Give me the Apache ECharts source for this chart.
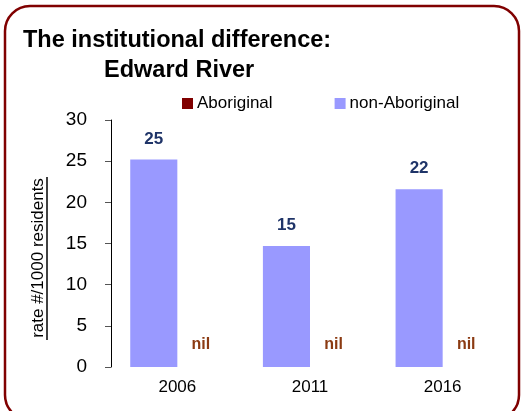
<!DOCTYPE html>
<html>
<head>
<meta charset="utf-8">
<title>Edward River</title>
<script src="https://cdn.jsdelivr.net/npm/echarts@6/dist/echarts.min.js"></script>
<style>
html, body { margin: 0; padding: 0; background: #fff; }
#edward_river { width: 528px; height: 411px; }
</style>
</head>
<body>
<div id="edward_river"></div>
<script>
/* data */
var years = ['2006', '2011', '2016'];
var nonAboriginal = [25.2, 14.7, 21.6];
var aboriginal = [0, 0, 0];
var yTicks = [0, 5, 10, 15, 20, 25, 30];

var FONT = 'Liberation Sans, Arial, sans-serif';

/**
 * bar chart options
 */
function getBarOptions(){
	var options = {
		animation : false,
		textStyle : { fontFamily : FONT },
		title : [ {
			text : 'The institutional difference:',
			left : 18,
			top : 24,
			textStyle : { fontSize : 23.5, fontWeight : 'bold', color : '#000', fontFamily : FONT }
		}, {
			text : 'Edward River',
			left : 99,
			top : 54,
			textStyle : { fontSize : 23.5, fontWeight : 'bold', color : '#000', fontFamily : FONT }
		} ],
		legend : {
			data : [ 'Aboriginal', 'non-Aboriginal' ],
			left : 177,
			top : 90,
			icon : 'rect',
			itemWidth : 11,
			itemHeight : 11,
			itemGap : 62,
			textStyle : { fontSize : 17, color : '#000', padding : [0, 0, 0, -1] }
		},
		grid : {
			left : 111,
			right : 19,
			top : 120,
			bottom : 44
		},
		xAxis : {
			type : 'category',
			data : years,
			axisLine : { show : false },
			axisTick : { show : false },
			axisLabel : { fontSize : 17, color : '#000', margin : 12 }
		},
		yAxis : {
			type : 'value',
			min : yTicks[0],
			max : yTicks[yTicks.length - 1],
			interval : 5,
			splitLine : { show : false },
			axisLine : { show : true, lineStyle : { color : '#000', width : 1 } },
			axisTick : { show : true, length : 6, lineStyle : { color : '#555' } },
			axisLabel : { fontSize : 19, color : '#000', margin : 24 }
		},
		graphic : [ {
			type : 'rect',
			shape : { x : 5, y : 6, width : 514, height : 414, r : 25 },
			style : { fill : 'none', stroke : '#800000', lineWidth : 2.5 },
			silent : true
		}, {
			type : 'text',
			x : 38,
			y : 258,
			rotation : Math.PI / 2,
			style : {
				text : 'rate #/1000 residents',
				font : '17px ' + FONT,
				fill : '#000',
				align : 'center',
				verticalAlign : 'middle'
			}
		}, {
			// underline of the axis name
			type : 'line',
			shape : { x1 : 47, y1 : 177, x2 : 47, y2 : 340 },
			style : { stroke : '#000', lineWidth : 1.5 }
		} ],
		series : [ {
			name : 'non-Aboriginal',
			type : 'bar',
			data : nonAboriginal,
			barGap : '0%',
			barCategoryGap : '29%',
			itemStyle : { color : '#9999FF' },
			label : {
				show : true,
				position : 'top',
				distance : 12,
				fontSize : 17,
				fontWeight : 'bold',
				color : '#1F3468',
				formatter : function(p){ return Math.round(p.value); }
			}
		}, {
			name : 'Aboriginal',
			type : 'bar',
			data : aboriginal,
			itemStyle : { color : '#800000' },
			label : {
				show : true,
				position : 'top',
				distance : 14,
				fontSize : 16,
				fontWeight : 'bold',
				color : '#8B3A12',
				formatter : 'nil'
			}
		} ]
	};
	return options;
}

var chart = echarts.init(document.getElementById('edward_river'), null, { renderer : 'canvas' });
chart.setOption(getBarOptions());
</script>
</body>
</html>
